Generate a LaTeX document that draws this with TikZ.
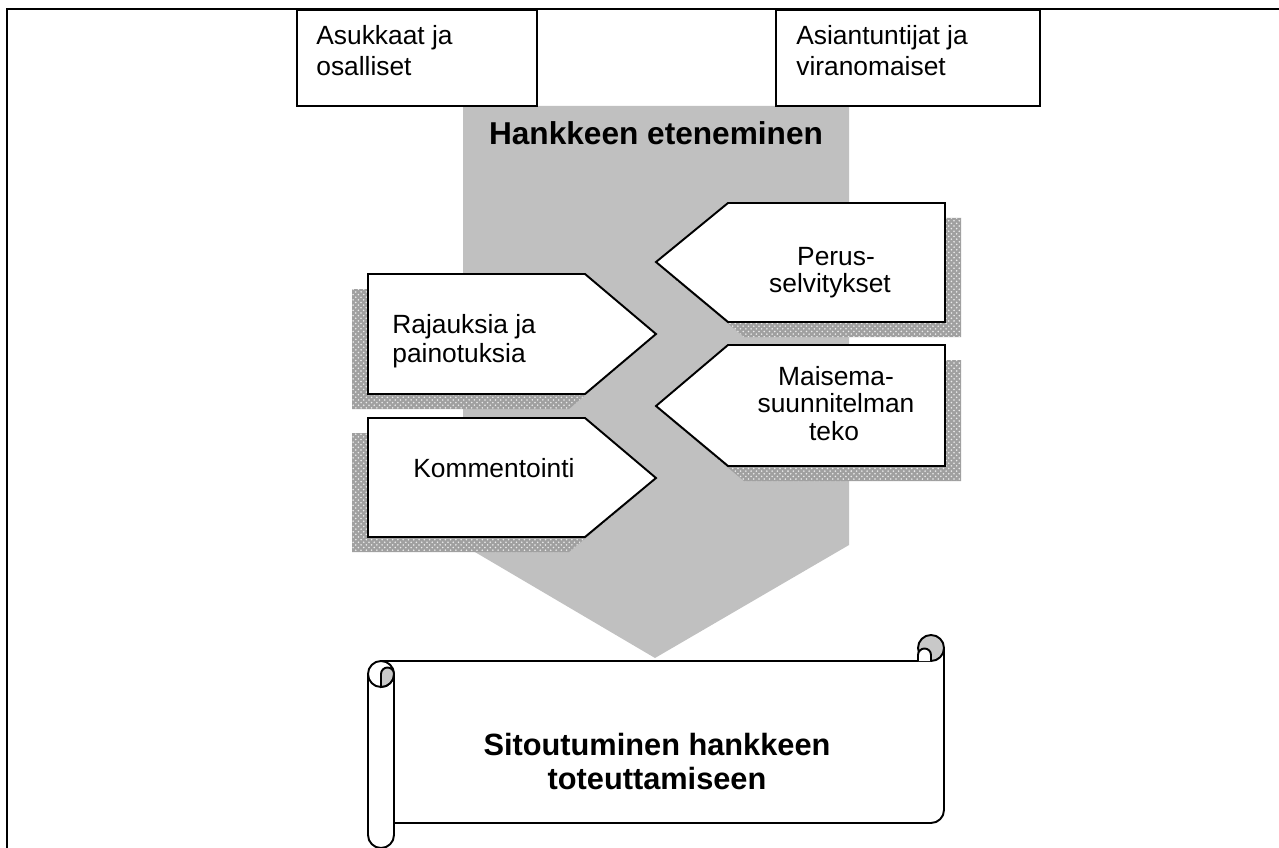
\documentclass[tikz,border=0pt]{standalone}
\usepackage{fontspec}
\setmainfont{Liberation Sans}
\usetikzlibrary{patterns}
\definecolor{silver}{RGB}{192,192,192}
\definecolor{shadowgray}{RGB}{160,160,160}
\definecolor{curlgray}{RGB}{200,200,200}
\begin{document}
\begin{tikzpicture}[x=0.02cm,y=-0.02cm,
  line join=miter,
  box/.style={draw=black, line width=1.1pt, fill=white},
  shad/.style={fill=shadowgray, postaction={pattern=crosshatch dots, pattern color=white!85!gray}},
  txt/.style={inner sep=0pt, font=\fontsize{15}{17}\selectfont},
  btxt/.style={inner sep=0pt, font=\fontsize{18}{21}\selectfont\bfseries},
  stxt/.style={inner sep=0pt, font=\fontsize{17.5}{21}\selectfont\bfseries},
]
\useasboundingbox (0,0) rectangle (1279,848);
\fill[white] (0,0) rectangle (1279,848);
% outer frame
\draw[line width=1.4pt] (7,850) -- (7,9) -- (1281,9);
% big grey arrow
\fill[silver] (463,106) -- (849,106) -- (849,545) -- (655,658) -- (463,545) -- cycle;
% top boxes
\draw[box] (297,10) rectangle (537,106);
\draw[box] (776,10) rectangle (1040,106);
\node[txt, anchor=base west] (asuk1) at (316,45) {Asukkaat ja};
\node[txt, anchor=base west] (asuk2) at (316,76) {osalliset};
\node[txt, anchor=base west] (asia1) at (796,45) {Asiantuntijat ja};
\node[txt, anchor=base west] (asia2) at (796,76) {viranomaiset};
% title
\node[btxt, anchor=base] (title) at (656,145) {Hankkeen eteneminen};
% shadows
\path[shad] (352,289) -- (569,289) -- (640,349) -- (569,409) -- (352,409) -- cycle;
\path[shad] (352,433) -- (569,433) -- (640,493) -- (569,552) -- (352,552) -- cycle;
\path[shad] (672,277) -- (744,218) -- (961,218) -- (961,337) -- (744,337) -- cycle;
\path[shad] (672,421) -- (744,360) -- (961,360) -- (961,481) -- (744,481) -- cycle;
% step arrows
\draw[box] (368,274) -- (585,274) -- (656,334) -- (585,394) -- (368,394) -- cycle;
\draw[box] (368,418) -- (585,418) -- (656,478) -- (585,537) -- (368,537) -- cycle;
\draw[box] (656,262) -- (728,203) -- (945,203) -- (945,322) -- (728,322) -- cycle;
\draw[box] (656,406) -- (728,345) -- (945,345) -- (945,466) -- (728,466) -- cycle;
\node[txt, anchor=base west] (raj1) at (392,333) {Rajauksia ja};
\node[txt, anchor=base west] (raj2) at (392,362) {painotuksia};
\node[txt, anchor=base west] (komm) at (413,477) {Kommentointi};
\node[txt, anchor=base] (per1) at (836,265) {Perus-};
\node[txt, anchor=base] (per2) at (830,293) {selvitykset};
\node[txt, anchor=base] (mai1) at (836,385) {Maisema-};
\node[txt, anchor=base] (mai2) at (836,412) {suunnitelman};
\node[txt, anchor=base] (mai3) at (834,440) {teko};
% scroll
\begin{scope}[line width=1.1pt]
  \fill[white] (368,661) rectangle (944,823);
  \draw (381,661) -- (931,661);
  \draw (395,823) -- (931,823) arc[start angle=90, end angle=0, radius=13] -- (944,648);
  % right curl
  \draw[fill=curlgray] (931,648) circle[radius=13];
  \draw[fill=white] (918,661) -- (918,655) arc[start angle=180, end angle=360, radius=6.5] -- (931,661);
  % left roll
  \draw[fill=white] (368,674) -- (368,835) arc[start angle=180, end angle=0, radius=13] -- (394,674);
  \draw[fill=white] (381,674) circle[radius=13];
  \draw[fill=curlgray] (381,674) arc[start angle=180, end angle=360, radius=6.5]
     arc[start angle=0, end angle=90, radius=13] -- cycle;
\end{scope}
\node[stxt, anchor=base] (sit1) at (657,755) {Sitoutuminen hankkeen};
\node[stxt, anchor=base] (sit2) at (657,789) {toteuttamiseen};
\end{tikzpicture}
\end{document}
